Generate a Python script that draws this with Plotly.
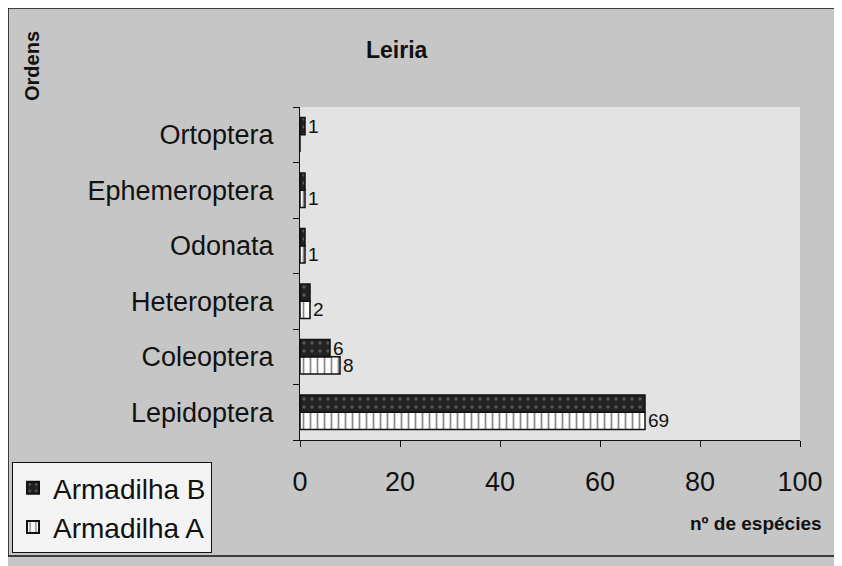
import plotly.graph_objects as go

categories = ["Lepidoptera", "Coleoptera", "Heteroptera", "Odonata", "Ephemeroptera", "Ortoptera"]
armadilha_a = [69, 8, 2, 1, 1, 0]
armadilha_b = [69, 6, 2, 1, 1, 1]
labels_a = ["69", "8", "2", "1", "1", ""]
labels_b = ["", "6", "", "", "", "1"]
x_ticks = [0, 20, 40, 60, 80, 100]

# page body has an 8px margin; work in page coordinates and convert
OFF = 8
W, H = 842, 566
PL, PR, PT, PB = 300, 800, 107, 440   # plot area in page pixels
L, T = PL - OFF, PT - OFF
R = W - (PR - OFF)
B = H - (PB - OFF)
pw, ph = PR - PL, PB - PT

def px(x):
    return (x - PL) / pw

def py(y):
    return (PB - y) / ph

fig = go.Figure()
fig.add_trace(go.Bar(
    y=categories, x=armadilha_a, orientation="h", name="Armadilha A",
    text=labels_a, textposition="outside", cliponaxis=False, constraintext="none",
    textfont=dict(size=19, color="#111", family="Liberation Sans, Arial"),
    marker=dict(color="white", line=dict(color="#111", width=1.5),
                pattern=dict(shape="|", fgcolor="#111", bgcolor="white", size=7, solidity=0.25)),
))
fig.add_trace(go.Bar(
    y=categories, x=armadilha_b, orientation="h", name="Armadilha B",
    text=labels_b, textposition="outside", cliponaxis=False, constraintext="none",
    textfont=dict(size=19, color="#111", family="Liberation Sans, Arial"),
    marker=dict(color="#222", line=dict(color="#111", width=1.5),
                pattern=dict(shape=".", fgcolor="#888", bgcolor="#222", size=8, solidity=0.15)),
))

fig.update_layout(
    width=W, height=H,
    margin=dict(l=L, r=R, t=T, b=B, autoexpand=False),
    paper_bgcolor="#c6c6c6", plot_bgcolor="#e3e3e3",
    barmode="group", bargap=0.38, bargroupgap=0.0,
    font=dict(family="Liberation Sans, Arial", color="#111"),
    showlegend=True,
    legend=dict(x=px(12), y=py(462), xanchor="left", yanchor="top",
                traceorder="reversed", bgcolor="#f4f4f4", bordercolor="#111", borderwidth=1,
                font=dict(size=28, color="#111"), itemsizing="constant", tracegroupgap=2),
    xaxis=dict(range=[0, 100], tickvals=x_ticks, ticks="outside", ticklen=6, tickcolor="#111",
               showline=True, linecolor="#111", linewidth=1, showgrid=False, zeroline=False,
               tickfont=dict(size=27, color="#111"), ticklabelstandoff=12),
    yaxis=dict(categoryorder="array", categoryarray=categories, ticks="outside", ticklen=6,
               tickson="boundaries", tickcolor="#111", showline=True, linecolor="#111", linewidth=1,
               showgrid=False, tickfont=dict(size=27, color="#111"), ticklabelstandoff=20),
    shapes=[dict(type="rect", xref="paper", yref="paper", x0=px(8), x1=px(838), y0=py(556), y1=py(8),
                 line=dict(color="#111", width=1.5), fillcolor="rgba(0,0,0,0)", layer="below")],
    annotations=[
        dict(text="<b>Leiria</b>", xref="paper", yref="paper", x=px(397), y=py(50), showarrow=False,
             xanchor="center", yanchor="middle", font=dict(size=23, color="#111")),
        dict(text="<b>Ordens</b>", xref="paper", yref="paper", x=px(32), y=py(66), showarrow=False,
             xanchor="center", yanchor="middle", textangle=-90, font=dict(size=20, color="#111")),
        dict(text="<b>nº de espécies</b>", xref="paper", yref="paper", x=px(756), y=py(523), showarrow=False,
             xanchor="center", yanchor="middle", font=dict(size=19, color="#111")),
    ],
)

fig.write_html("out.html")
